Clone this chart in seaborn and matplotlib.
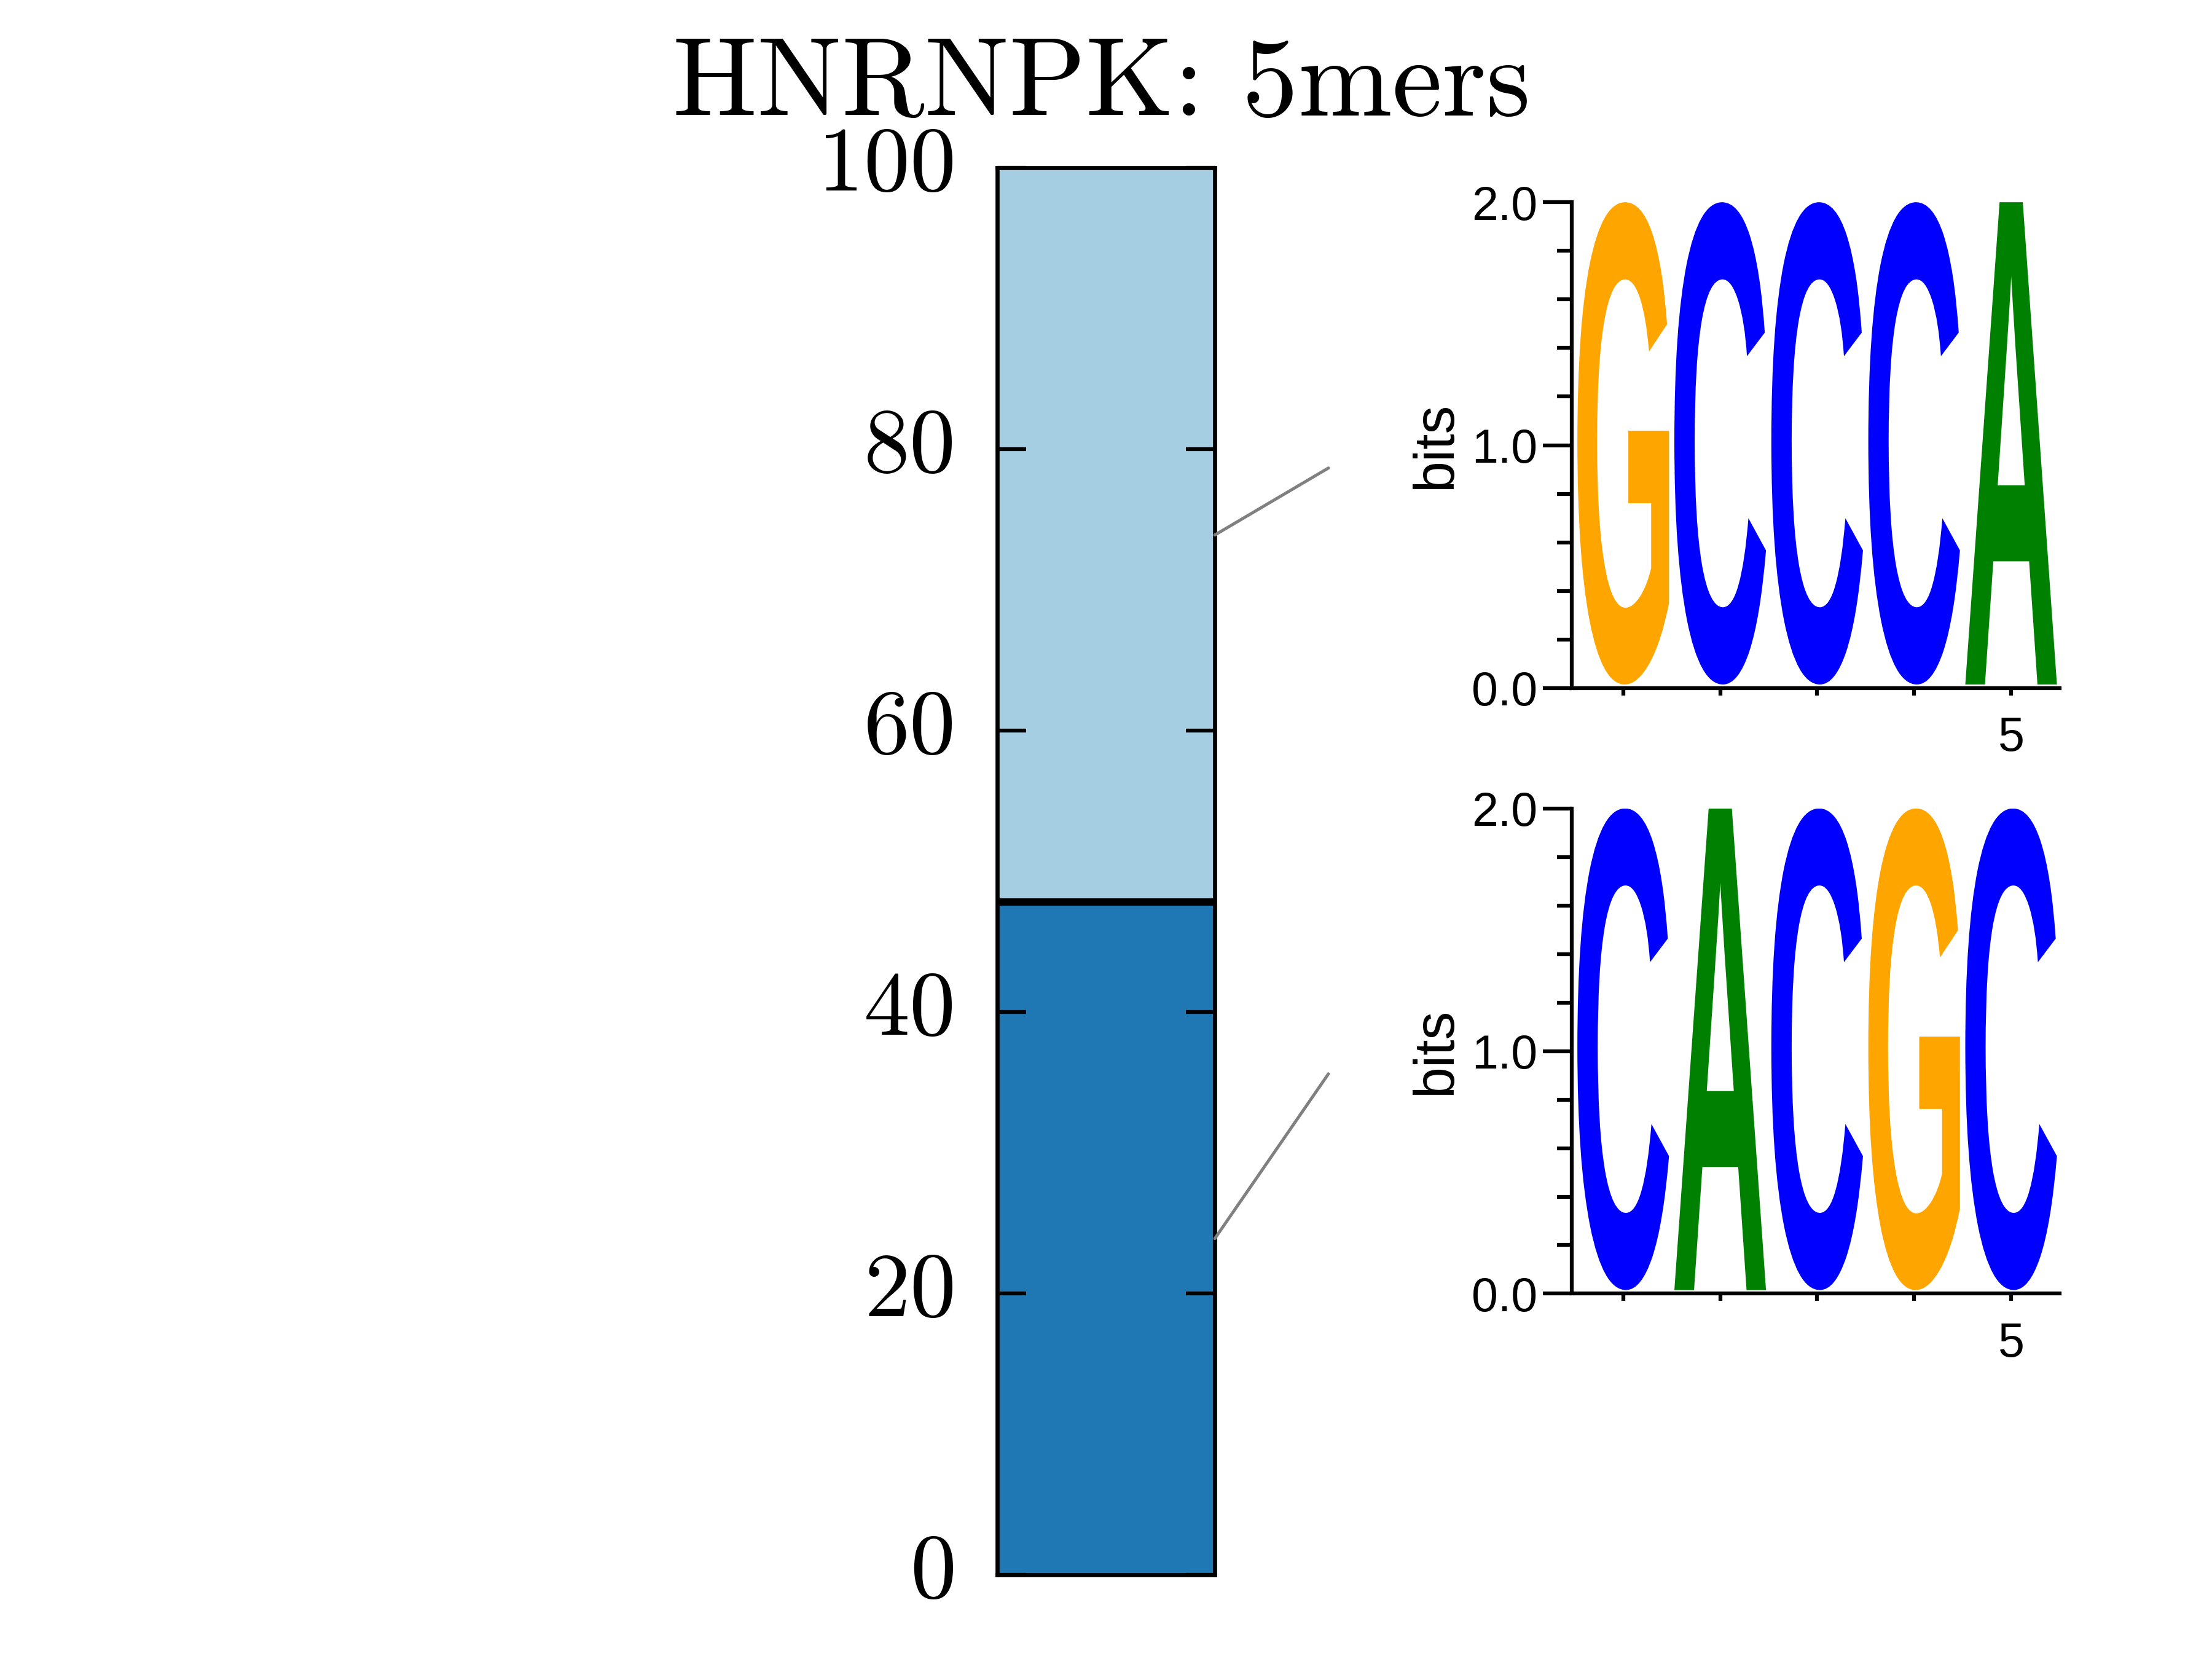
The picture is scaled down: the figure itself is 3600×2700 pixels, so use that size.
import numpy as np
import matplotlib
matplotlib.use("Agg")
import matplotlib.pyplot as plt
import seaborn as sns
from matplotlib.textpath import TextPath
from matplotlib.font_manager import FontProperties
from matplotlib.patches import PathPatch, ConnectionPatch
from matplotlib.transforms import Affine2D, ScaledTranslation
from matplotlib.ticker import MultipleLocator

# ---------------- data ----------------
title = "HNRNPK: 5mers"
bar_category = ["HNRNPK"]
segment_shares = [47.8, 52.2]          # bottom (dark) -> top (light), percent
segment_colors = ["#1f77b4", "#a6cee3"]
bar_ticks = [0, 20, 40, 60, 80, 100]

# motif logos (top logo -> light segment, bottom logo -> dark segment)
logo_top_letters = ["G", "C", "C", "C", "A"]
logo_top_bits = [2.0, 2.0, 2.0, 2.0, 2.0]
logo_bottom_letters = ["C", "A", "C", "G", "C"]
logo_bottom_bits = [2.0, 2.0, 2.0, 2.0, 2.0]
logo_positions = [1, 2, 3, 4, 5]
logo_xticklabels = ["", "", "", "", "5"]
logo_major_ticks = [0.0, 1.0, 2.0]
logo_major_labels = ["0.0", "1.0", "2.0"]
letter_colors = {"A": "#008000", "C": "#0000ff", "G": "#ffa500", "T": "#ff0000"}

# ---------------- style ----------------
sns.set_style("ticks")
plt.rcParams["font.family"] = ["Liberation Sans", "DejaVu Sans"]
plt.rcParams["axes.formatter.use_mathtext"] = True
for key in ("text.color", "axes.labelcolor", "xtick.color", "ytick.color",
            "axes.edgecolor"):
    plt.rcParams[key] = "black"

fig = plt.figure(figsize=(12, 9), dpi=300)

# ---------------- stacked bar ----------------
ax = fig.add_axes([0.4508, 0.0507, 0.0984, 0.8482])
tops = np.cumsum(segment_shares)
for top, col in sorted(zip(tops, segment_colors), key=lambda t: -t[0]):
    sns.barplot(x=bar_category, y=[top], color=col, width=1.0, ax=ax,
                edgecolor="#2a2a2a", linewidth=0.5, saturation=1)
for boundary in tops[:-1]:
    ax.axhline(boundary, color="black", lw=2.9, zorder=5)
ax.set_axisbelow(False)
ax.set_xlim(-0.5, 0.5)
ax.set_ylim(0, 100)
ax.set_xticks([])
ax.set_xlabel("")
ax.set_ylabel("")
ax.set_yticks(bar_ticks)
ax.set_yticklabels([str(t) for t in bar_ticks], fontfamily="cmr10", fontsize=36)
ax.tick_params(axis="y", which="both", direction="in", left=True, right=True,
               length=11.3, width=1.5, pad=16, colors="black")
shift_up = ScaledTranslation(0, 3.6 / 72, fig.dpi_scale_trans)
for lbl in ax.get_yticklabels():
    lbl.set_transform(lbl.get_transform() + shift_up)
for sp in ax.spines.values():
    sp.set_visible(True)
    sp.set_linewidth(1.6)
    sp.set_color("black")
    sp.set_zorder(6)
for line in ax.yaxis.get_ticklines():
    line.set_zorder(7)

fig.text(0.498, 0.9304, title, ha="center", va="baseline",
         fontfamily="cmr10", fontsize=44, color="black")

# ---------------- logos ----------------
letter_fp = FontProperties(family="Liberation Sans", weight="bold")
LETTER_W = 0.945
LETTER_BASE = 0.015


def draw_logo(lax, letters, bits):
    for pos, ch, h in zip(logo_positions, letters, bits):
        tp = TextPath((0, 0), ch, size=1, prop=letter_fp)
        ext = tp.get_extents()
        tr = (Affine2D().translate(-ext.x0, -ext.y0)
              .scale(LETTER_W / ext.width, (h - LETTER_BASE) / ext.height)
              .translate(pos - LETTER_W / 2, LETTER_BASE))
        lax.add_patch(PathPatch(tr.transform_path(tp),
                                facecolor=letter_colors[ch], edgecolor="none",
                                lw=0))
    lax.set_xlim(0.5, 5.5)
    lax.set_ylim(0, 2.0)
    lax.spines["top"].set_visible(False)
    lax.spines["right"].set_visible(False)
    for s in ("left", "bottom"):
        lax.spines[s].set_linewidth(1.5)
        lax.spines[s].set_color("black")
    lax.spines["left"].set_position(("outward", 1.2))
    lax.set_yticks(logo_major_ticks)
    lax.set_yticklabels(logo_major_labels, fontsize=18.5, color="black")
    lax.yaxis.set_minor_locator(MultipleLocator(0.2))
    lax.tick_params(axis="y", which="major", direction="out", length=11.3,
                    width=1.5, pad=2, colors="black")
    lax.tick_params(axis="y", which="minor", direction="out", length=5.7,
                    width=1.5, colors="black")
    lax.set_xticks(logo_positions)
    lax.set_xticklabels(logo_xticklabels, fontsize=18.5, color="black")
    lax.tick_params(axis="x", which="major", direction="out", length=2.9,
                    width=1.5, pad=8, colors="black")
    lax.tick_params(axis="x", which="minor", bottom=False)
    lax.text(-0.286, 0.5, "bits", rotation=90, ha="center", va="center",
             fontsize=22, color="black", transform=lax.transAxes)


ax_top = fig.add_axes([0.7119, 0.5852, 0.2192, 0.2929])
draw_logo(ax_top, logo_top_letters, logo_top_bits)
ax_bot = fig.add_axes([0.7119, 0.2202, 0.2192, 0.2925])
draw_logo(ax_bot, logo_bottom_letters, logo_bottom_bits)

# ---------------- connectors ----------------
lower_edges = np.concatenate([[0], tops[:-1]])
mids = (lower_edges + tops) / 2
for mid, lax in zip(mids, [ax_bot, ax_top]):
    con = ConnectionPatch(xyA=(0.5, mid), coordsA=ax.transData,
                          xyB=(-0.508, 0.453), coordsB=lax.transAxes,
                          color="#808080", lw=1.2, zorder=1)
    fig.add_artist(con)

fig.savefig("out.png", dpi=300)
